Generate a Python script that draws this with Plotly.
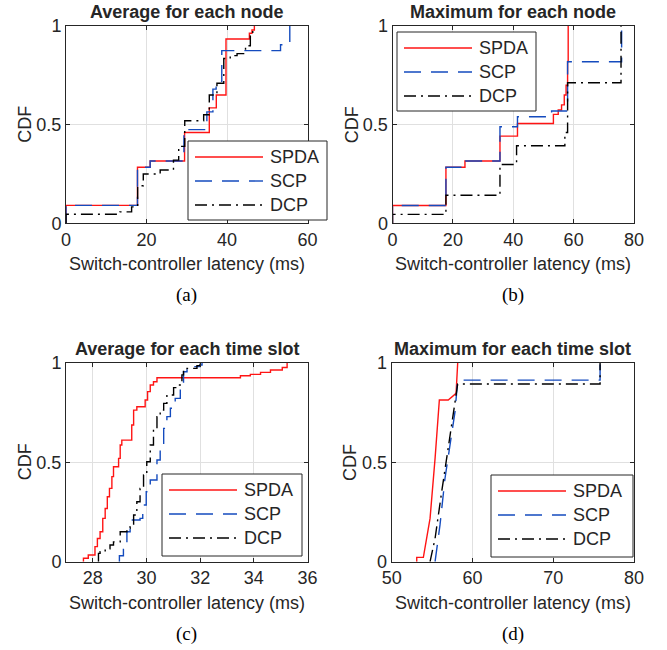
import plotly.graph_objects as go

W, H = 667, 650
FONT = "Liberation Sans"
TXT = "#262626"

series_names = ["SPDA", "SCP", "DCP"]
colors = {"SPDA": "rgb(255,20,20)", "SCP": "rgb(20,75,190)", "DCP": "rgb(0,0,0)"}
dashes = {"SPDA": "solid", "SCP": "17px,10px", "DCP": "12px,5px,2px,5px"}

# (a) Average for each node
a_spda_x = [0, 0, 17.76, 20.91, 29.46, 35.6, 37.34, 39.75, 45.56, 46.2, 46.8]
a_spda_y = [0, 0.091, 0.284, 0.316, 0.46, 0.585, 0.65, 0.934, 0.963, 0.98, 1.0]
a_scp_x = [0, 0, 17.76, 20.91, 29.3, 35.0, 36.5, 37.3, 38.7, 53.3, 55.6]
a_scp_y = [0, 0.091, 0.284, 0.316, 0.475, 0.565, 0.68, 0.72, 0.875, 0.905, 1.0]
a_dcp_x = [0, 0, 13.4, 16.3, 17.8, 19.2, 23.4, 26.7, 28.0, 29.5, 34.2, 35.6, 37.5, 39.2, 40.8, 42.5, 44.6, 45.8, 46.4]
a_dcp_y = [0, 0.046, 0.058, 0.083, 0.19, 0.25, 0.27, 0.32, 0.39, 0.52, 0.55, 0.65, 0.71, 0.835, 0.85, 0.86, 0.90, 0.95, 1.0]

# (b) Maximum for each node
b_spda_x = [0, 0, 17.7, 24.0, 35.6, 41.4, 53.3, 54.9, 56.0, 56.9, 57.5, 58.0, 58.2]
b_spda_y = [0, 0.09, 0.284, 0.316, 0.442, 0.506, 0.552, 0.574, 0.6, 0.65, 0.70, 0.82, 1.0]
b_scp_x = [0, 0, 17.7, 24.0, 35.6, 41.4, 52.7, 58.0, 75.9]
b_scp_y = [0, 0.09, 0.284, 0.316, 0.489, 0.54, 0.569, 0.819, 1.0]
b_dcp_x = [0, 0, 17.7, 35.6, 41.1, 57.1, 58.0, 75.7]
b_dcp_y = [0, 0.045, 0.142, 0.298, 0.393, 0.46, 0.712, 1.0]

# (c) Average for each time slot
c_spda_x = [27.65, 27.65, 27.83, 28.08, 28.17, 28.27, 28.37, 28.46, 28.54, 28.62, 28.71, 28.77, 28.96, 29.02, 29.08,
            29.45, 29.52, 29.64, 29.95, 30.04, 30.14, 30.26, 30.39, 33.5, 33.87, 34.25, 34.62, 35.06, 35.24]
c_spda_y = [0, 0.017, 0.034, 0.076, 0.117, 0.151, 0.218, 0.268, 0.327, 0.369, 0.428, 0.478, 0.52, 0.587, 0.612,
            0.688, 0.763, 0.78, 0.814, 0.856, 0.889, 0.906, 0.926, 0.936, 0.943, 0.953, 0.965, 0.977, 1.0]
c_scp_x = [28.99, 28.99, 29.14, 29.27, 29.39, 29.76, 29.86, 29.99, 30.14, 30.39, 30.51, 30.64, 30.76, 30.89, 31.07,
           31.26, 31.38, 31.51, 31.76, 32.0, 32.07]
c_scp_y = [0, 0.03, 0.084, 0.151, 0.21, 0.218, 0.285, 0.352, 0.411, 0.512, 0.587, 0.671, 0.73, 0.772, 0.822,
           0.889, 0.956, 0.97, 0.982, 0.99, 1.0]
c_dcp_x = [28.21, 28.21, 28.27, 28.46, 28.64, 28.77, 29.02, 29.27, 29.39, 29.52, 29.64, 29.76, 29.89, 30.01, 30.14,
           30.26, 30.39, 30.51, 30.64, 30.76, 31.01, 31.2, 31.32, 31.38, 31.51, 31.88, 32.0]
c_dcp_y = [0, 0.042, 0.05, 0.065, 0.084, 0.1, 0.151, 0.168, 0.176, 0.235, 0.302, 0.369, 0.436, 0.503, 0.587,
           0.671, 0.73, 0.763, 0.797, 0.839, 0.876, 0.889, 0.94, 0.965, 0.973, 0.987, 1.0]

# (d) Maximum for each time slot
d_spda_x = [53.1, 53.1, 53.92, 54.75, 55.37, 55.9, 57.0, 57.97, 58.17]
d_spda_y = [0, 0.022, 0.022, 0.218, 0.52, 0.814, 0.814, 0.847, 1.0]
d_scp_x = [55.37, 55.98, 56.6, 57.22, 57.84, 58.17, 75.8, 75.8]
d_scp_y = [0, 0.185, 0.42, 0.587, 0.755, 0.914, 0.914, 1.0]
d_dcp_x = [54.75, 55.37, 56.19, 57.02, 57.84, 58.17, 75.8, 75.8]
d_dcp_y = [0, 0.117, 0.352, 0.587, 0.805, 0.894, 0.894, 1.0]

panel_titles = ["Average for each node", "Maximum for each node",
                "Average for each time slot", "Maximum for each time slot"]
captions = ["(a)", "(b)", "(c)", "(d)"]
x_ranges = [[0, 60], [0, 80], [27, 36], [50, 80]]
x_ticks = [[0, 20, 40, 60], [0, 20, 40, 60, 80], [28, 30, 32, 34, 36], [50, 60, 70, 80]]
y_ticks = [0, 0.5, 1]
y_ticklabels = ["0", "0.5", "1"]
x_title = "Switch-controller latency (ms)"
y_title = "CDF"

panels = [
    {"SPDA": (a_spda_x, a_spda_y), "SCP": (a_scp_x, a_scp_y), "DCP": (a_dcp_x, a_dcp_y)},
    {"SPDA": (b_spda_x, b_spda_y), "SCP": (b_scp_x, b_scp_y), "DCP": (b_dcp_x, b_dcp_y)},
    {"SPDA": (c_spda_x, c_spda_y), "SCP": (c_scp_x, c_scp_y), "DCP": (c_dcp_x, c_dcp_y)},
    {"SPDA": (d_spda_x, d_spda_y), "SCP": (d_scp_x, d_scp_y), "DCP": (d_dcp_x, d_dcp_y)},
]
shapes_line = ["hv", "hv", "hv", "linear"]

# pixel boxes of axes: (left, right, top, bottom)
boxes = [(66, 307.5, 26, 223.3), (392.5, 634, 26, 223.3),
         (66, 307.5, 363, 561.7), (391.7, 634, 363, 561.7)]
# legend boxes: (left, top, width, height)
legend_boxes = [(188, 141, 139, 79), (397, 32, 139, 79), (162, 474, 140, 82), (491, 475, 142, 82)]


def px(x):
    return x / W


def py(y):
    return 1 - y / H


fig = go.Figure()
annotations = []
shapes = []
layout = {}
for i in range(4):
    l, r, t, b = boxes[i]
    xa = "xaxis" if i == 0 else f"xaxis{i+1}"
    ya = "yaxis" if i == 0 else f"yaxis{i+1}"
    xr = "x" if i == 0 else f"x{i+1}"
    yr = "y" if i == 0 else f"y{i+1}"
    axis_common = dict(showline=True, linecolor=TXT, linewidth=1, mirror="ticks",
                       ticks="inside", ticklen=4, tickcolor=TXT, showgrid=True,
                       gridcolor="#e0e0e0", gridwidth=1, zeroline=False, automargin=False,
                       tickfont=dict(family=FONT, size=18, color=TXT))
    layout[xa] = dict(domain=[px(l), px(r)], range=x_ranges[i], tickvals=x_ticks[i],
                      anchor=yr, **axis_common)
    layout[ya] = dict(domain=[py(b), py(t)], range=[0, 1], tickvals=y_ticks,
                      ticktext=y_ticklabels, anchor=xr, **axis_common)
    for name in series_names:
        xs, ys = panels[i][name]
        fig.add_trace(go.Scatter(x=xs, y=ys, mode="lines", name=name, xaxis=xr, yaxis=yr,
                                 line=dict(color=colors[name], width=1.4, dash=dashes[name],
                                           shape=shapes_line[i]),
                                 showlegend=(i == 0), legendgroup=name))
    # legend box drawn per panel
    bl, bt, bw, bh = legend_boxes[i]
    shapes.append(dict(type="rect", xref="paper", yref="paper", layer="above",
                       x0=px(bl), x1=px(bl + bw), y0=py(bt + bh), y1=py(bt),
                       fillcolor="white", line=dict(color=TXT, width=1)))
    for k, name in enumerate(series_names):
        ry = bt + 16 + 24 * k
        shapes.append(dict(type="line", xref="paper", yref="paper", layer="above",
                           x0=px(bl + 7), x1=px(bl + 75), y0=py(ry), y1=py(ry),
                           line=dict(color=colors[name], width=1.4, dash=dashes[name])))
        annotations.append(dict(text=name, x=px(bl + 80), y=py(ry), xref="paper", yref="paper",
                                showarrow=False, xanchor="left", yanchor="middle",
                                font=dict(family=FONT, size=18, color=TXT)))
    cx = (l + r) / 2
    annotations.append(dict(text=f"<b>{panel_titles[i]}</b>", x=px(cx), y=py(t - 14),
                            xref="paper", yref="paper", showarrow=False,
                            xanchor="center", yanchor="middle",
                            font=dict(family=FONT, size=18, color=TXT)))
    annotations.append(dict(text=x_title, x=px(cx), y=py(b + 41), xref="paper", yref="paper",
                            showarrow=False, xanchor="center", yanchor="middle",
                            font=dict(family=FONT, size=18, color=TXT)))
    annotations.append(dict(text=captions[i], x=px(cx), y=py(b + 72), xref="paper", yref="paper",
                            showarrow=False, xanchor="center", yanchor="middle",
                            font=dict(family="Liberation Serif", size=19, color="black")))
    annotations.append(dict(text=y_title, x=px(l - 41), y=py((t + b) / 2), xref="paper",
                            yref="paper", showarrow=False, xanchor="center", yanchor="middle",
                            textangle=-90, font=dict(family=FONT, size=18, color=TXT)))

fig.update_layout(width=W, height=H, margin=dict(l=0, r=0, t=0, b=0),
                  plot_bgcolor="white", paper_bgcolor="white", showlegend=False,
                  annotations=annotations, shapes=shapes, **layout)
fig.write_html("out.html", config={"displayModeBar": False},
               post_script="document.body.style.margin='0';document.body.style.overflow='hidden';")
